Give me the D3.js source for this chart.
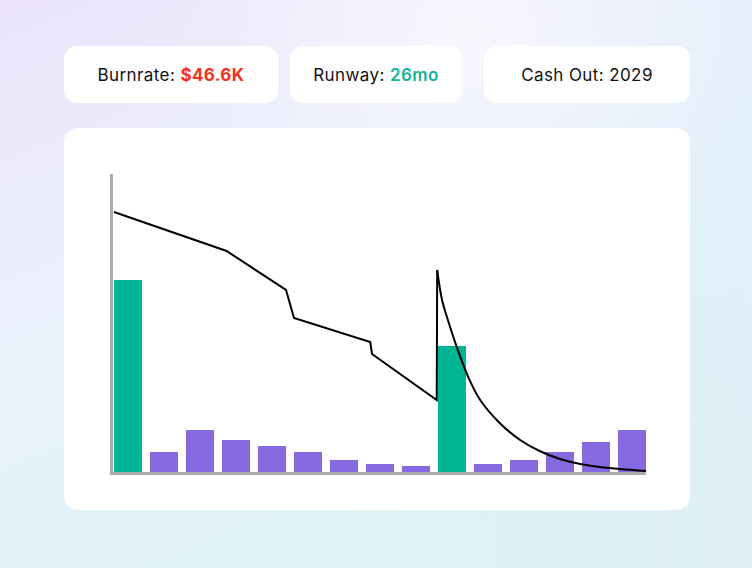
<!DOCTYPE html>
<html><head><meta charset="utf-8">
<script src="https://cdn.jsdelivr.net/npm/d3@7"></script>
<style>
html,body{margin:0;padding:0;width:752px;height:568px;overflow:hidden;}
svg{display:block;font-family:Inter,"Noto Sans",sans-serif;}
</style></head>
<body>
<svg id="c" width="752" height="568"></svg>
<script>
// ---- data ----
const months = ["M1","M2","M3","M4","M5","M6","M7","M8","M9","M10","M11","M12","M13","M14","M15"];
const barValues = [192, 20, 42, 32, 26, 20, 12, 8, 6, 126, 8, 12, 20, 30, 42];
const barKinds  = ["in","out","out","out","out","out","out","out","out","in","out","out","out","out","out"];
// cash balance line (week index, balance)
const lineWeeks  = [0, 12.7, 19.4, 20.3, 28.9, 29.1, 36.4, 36.45, 37.0, 37.8, 38.7, 40.0, 41.3, 43.5, 45.8, 48.0, 50.3, 52.6, 54.8, 57.1, 60];
const lineValues = [260, 221, 182, 154, 130, 118, 72, 202, 172, 148, 124, 94, 72, 49, 32, 21, 13, 8, 5, 3, 1];
const kpiLabels = ["Burnrate: ", "Runway: ", "Cash Out: "];
const kpiValues = ["$46.6K", "26mo", "2029"];

const svg = d3.select("#c");
const defs = svg.append("defs");
const g1 = defs.append("linearGradient").attr("id","bg").attr("x1","0").attr("y1","0").attr("x2","0.55").attr("y2","1");
g1.append("stop").attr("offset","0").attr("stop-color","#ebe4fb");
g1.append("stop").attr("offset","0.45").attr("stop-color","#eaf0fb");
g1.append("stop").attr("offset","1").attr("stop-color","#dcf3f3");
svg.append("rect").attr("width",752).attr("height",568).attr("fill","url(#bg)");
const g3 = defs.append("linearGradient").attr("id","side").attr("x1","0").attr("y1","0").attr("x2","1").attr("y2","0");
g3.append("stop").attr("offset","0.5").attr("stop-color","#e0eef9").attr("stop-opacity",0);
g3.append("stop").attr("offset","1").attr("stop-color","#e0eef9").attr("stop-opacity",0.7);
svg.append("rect").attr("width",752).attr("height",568).attr("fill","url(#side)");
const g2 = defs.append("radialGradient").attr("id","glow").attr("cx","0.62").attr("cy","0.05").attr("r","0.4");
g2.append("stop").attr("offset","0").attr("stop-color","#f8f7fe").attr("stop-opacity",0.95);
g2.append("stop").attr("offset","1").attr("stop-color","#f8f7fe").attr("stop-opacity",0);
svg.append("rect").attr("width",752).attr("height",568).attr("fill","url(#glow)");

// KPI cards
const cards = [{x:64,w:214},{x:290,w:172},{x:484,w:206}];
const valColors = ["#f5301c","#11b596","#111111"];
const valWeights = [700, 600, 400];
cards.forEach((c,i)=>{
  svg.append("rect").attr("x",c.x).attr("y",46).attr("width",c.w).attr("height",57).attr("rx",13).attr("fill","#fff");
  const t = svg.append("text").attr("x",c.x+c.w/2).attr("y",81).attr("text-anchor","middle")
    .attr("font-size",17).attr("letter-spacing",0.4).attr("fill","#111");
  t.append("tspan").text(kpiLabels[i]);
  t.append("tspan").attr("fill",valColors[i]).attr("font-weight",valWeights[i]).text(kpiValues[i]);
});

// chart panel
svg.append("rect").attr("x",64).attr("y",128).attr("width",626).attr("height",382).attr("rx",14).attr("fill","#fff");

const x = d3.scaleBand().domain(months).range([114,646]).paddingInner(0.222).paddingOuter(0);
const y = d3.scaleLinear().domain([0,300]).range([472,172]);
const xl = d3.scaleLinear().domain([0,60]).range([114,646]);

svg.append("g").selectAll("rect").data(barValues).join("rect")
  .attr("x",(d,i)=>x(months[i]))
  .attr("width",x.bandwidth())
  .attr("y",d=>y(d))
  .attr("height",d=>y(0)-y(d))
  .attr("fill",(d,i)=>barKinds[i]==="in" ? "#00b494" : "#8769e1");

// axes
svg.append("line").attr("x1",111.5).attr("x2",111.5).attr("y1",y(298)).attr("y2",475).attr("stroke","#ababab").attr("stroke-width",3);
svg.append("line").attr("x1",110).attr("x2",x.range()[1]).attr("y1",473.5).attr("y2",473.5).attr("stroke","#ababab").attr("stroke-width",3);

// line
const pts = lineWeeks.map((w,i)=>[w,lineValues[i]]);
const seg1 = pts.slice(0,7), seg2 = pts.slice(6);
const lineLin = d3.line().x(d=>xl(d[0])).y(d=>y(d[1]));
const lineCurve = d3.line().x(d=>xl(d[0])).y(d=>y(d[1])).curve(d3.curveCatmullRom.alpha(0.5));
svg.append("path").attr("d",lineLin(seg1)+lineLin(seg2.slice(0,2)).replace(/^M/,"L")).attr("fill","none").attr("stroke","#000").attr("stroke-width",2);
svg.append("path").attr("d",lineCurve(seg2.slice(1))).attr("fill","none").attr("stroke","#000").attr("stroke-width",2);
</script>
</body></html>
